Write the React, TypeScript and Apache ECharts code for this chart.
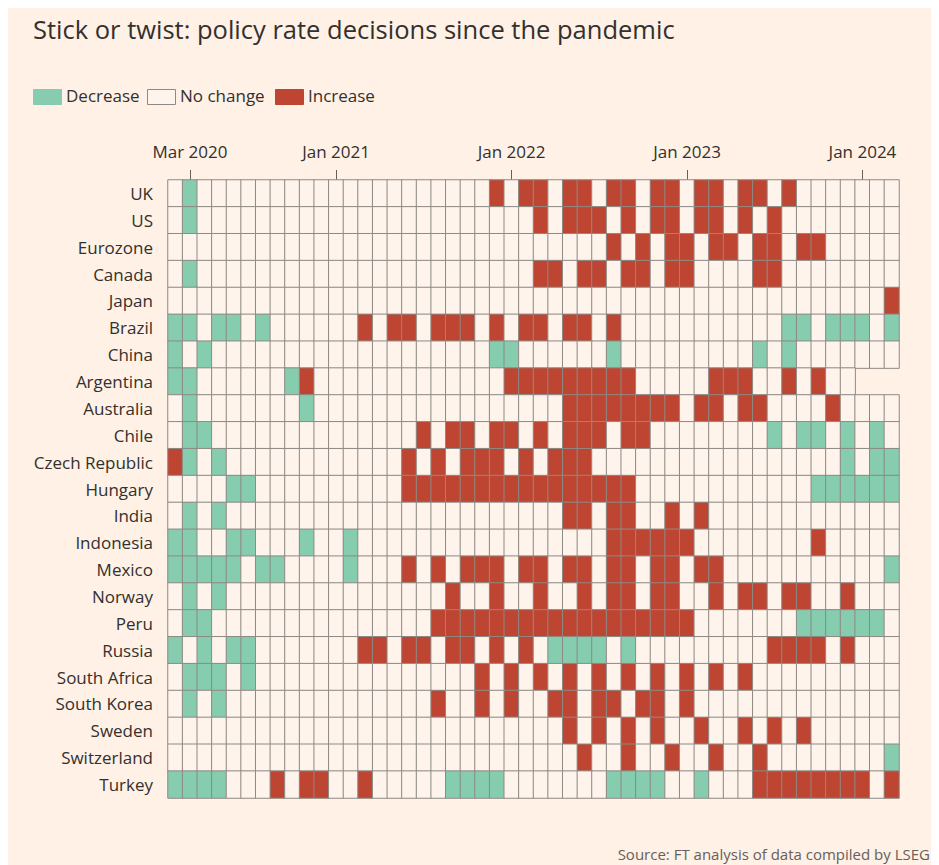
import React, { useEffect, useRef } from "react";
import * as echarts from "echarts";

const countries = [
  "UK", "US", "Eurozone", "Canada", "Japan", "Brazil", "China", "Argentina",
  "Australia", "Chile", "Czech Republic", "Hungary", "India", "Indonesia",
  "Mexico", "Norway", "Peru", "Russia", "South Africa", "South Korea",
  "Sweden", "Switzerland", "Turkey",
];

const months = [
  "Feb 2020", "Mar 2020", "Apr 2020", "May 2020", "Jun 2020", "Jul 2020", "Aug 2020", "Sep 2020", "Oct 2020", "Nov 2020", "Dec 2020",
  "Jan 2021", "Feb 2021", "Mar 2021", "Apr 2021", "May 2021", "Jun 2021", "Jul 2021", "Aug 2021", "Sep 2021", "Oct 2021", "Nov 2021", "Dec 2021",
  "Jan 2022", "Feb 2022", "Mar 2022", "Apr 2022", "May 2022", "Jun 2022", "Jul 2022", "Aug 2022", "Sep 2022", "Oct 2022", "Nov 2022", "Dec 2022",
  "Jan 2023", "Feb 2023", "Mar 2023", "Apr 2023", "May 2023", "Jun 2023", "Jul 2023", "Aug 2023", "Sep 2023", "Oct 2023", "Nov 2023", "Dec 2023",
  "Jan 2024", "Feb 2024", "Mar 2024",
];

const tickLabels = ["Mar 2020", "Jan 2021", "Jan 2022", "Jan 2023", "Jan 2024"];

const legendNames = ["Decrease", "No change", "Increase"];

// month indices (0 = Feb 2020) with a rate cut, per country
const decreases: number[][] = [
  [1],
  [1],
  [],
  [1],
  [],
  [0, 1, 3, 4, 6, 42, 43, 45, 46, 47, 49],
  [0, 2, 22, 23, 30, 40, 42],
  [0, 1, 8],
  [1, 9],
  [1, 2, 41, 43, 44, 46, 48],
  [1, 3, 46, 48, 49],
  [4, 5, 44, 45, 46, 47, 48, 49],
  [1, 3],
  [0, 1, 4, 5, 9, 12],
  [0, 1, 2, 3, 4, 6, 7, 12, 49],
  [1, 3],
  [1, 2, 43, 44, 45, 46, 47, 48],
  [0, 2, 4, 5, 26, 27, 28, 29, 31],
  [1, 2, 3, 5],
  [1, 3],
  [],
  [49],
  [0, 1, 2, 3, 19, 20, 21, 22, 30, 31, 32, 33, 36],
];

// month indices with a rate rise, per country
const increases: number[][] = [
  [22, 24, 25, 27, 28, 30, 31, 33, 34, 36, 37, 39, 40, 42],
  [25, 27, 28, 29, 31, 33, 34, 36, 37, 39, 41],
  [30, 32, 34, 35, 37, 38, 40, 41, 43, 44],
  [25, 26, 28, 29, 31, 32, 34, 35, 40, 41],
  [49],
  [13, 15, 16, 18, 19, 20, 22, 24, 25, 27, 28, 30],
  [],
  [9, 23, 24, 25, 26, 27, 28, 29, 30, 31, 37, 38, 39, 42, 44],
  [27, 28, 29, 30, 31, 32, 33, 34, 36, 37, 39, 40, 45],
  [17, 19, 20, 22, 23, 25, 27, 28, 29, 31, 32],
  [0, 16, 18, 20, 21, 22, 24, 26, 27, 28],
  [16, 17, 18, 19, 20, 21, 22, 23, 24, 25, 26, 27, 28, 29, 30, 31],
  [27, 28, 30, 31, 34, 36],
  [30, 31, 32, 33, 34, 35, 44],
  [16, 18, 20, 21, 22, 24, 25, 27, 28, 30, 31, 33, 34, 36, 37],
  [19, 22, 25, 28, 30, 31, 33, 34, 37, 39, 40, 42, 43, 46],
  [18, 19, 20, 21, 22, 23, 24, 25, 26, 27, 28, 29, 30, 31, 32, 33, 34, 35],
  [13, 14, 16, 17, 19, 20, 22, 24, 41, 42, 43, 44, 46],
  [21, 23, 25, 27, 29, 31, 33, 35, 37, 39],
  [18, 21, 23, 26, 27, 29, 30, 32, 33, 35],
  [27, 29, 31, 33, 36, 39, 41, 43],
  [28, 31, 34, 37, 40],
  [7, 9, 10, 13, 40, 41, 42, 43, 44, 45, 46, 47, 49],
];

// number of months with a recorded decision, per country
const monthsWithData = [
  50, 50, 50, 50, 50, 50, 50, 47, 50, 50, 50, 50, 50, 50, 50, 50, 50, 50, 50, 50, 50, 50, 50,
];

const GREEN = "#86cdb0";
const RED = "#be4532";
const CREAM = "#fff4ec";
const BORDER = "#8e8984";
const TEXT = "#33302e";
const FONT = "'Open Sans', sans-serif";

export default function App() {
  const ref = useRef<HTMLDivElement>(null);
  useEffect(() => {
    document.documentElement.style.overflow = "hidden";
    const chart = echarts.init(ref.current!, null, { renderer: "svg" });
    const data: number[][] = [];
    countries.forEach((_, r) => {
      for (let m = 0; m < monthsWithData[r]; m++) {
        const v = decreases[r].includes(m) ? -1 : increases[r].includes(m) ? 1 : 0;
        data.push([m, r, v]);
      }
    });
    const showTick = (_i: number, v: string) => tickLabels.includes(v);
    const swatchColors = [GREEN, CREAM, RED];
    const swatchX = [25, 139, 267];
    const legendGraphics: any[] = [];
    legendNames.forEach((name, i) => {
      legendGraphics.push({
        type: "rect",
        left: swatchX[i],
        top: 81,
        shape: { width: 28, height: 15 },
        style: { fill: swatchColors[i], stroke: i === 1 ? BORDER : swatchColors[i], lineWidth: 1 },
      });
      legendGraphics.push({
        type: "text",
        left: swatchX[i] + 33,
        top: 79,
        style: { text: name, fontSize: 17, fill: TEXT, fontFamily: FONT },
      });
    });
    chart.setOption({
      animation: false,
      backgroundColor: "#fff1e5",
      textStyle: { fontFamily: FONT },
      title: {
        text: "Stick or twist: policy rate decisions since the pandemic",
        left: 25,
        top: 8,
        padding: 0,
        textStyle: { fontSize: 25.5, fontWeight: "normal", color: TEXT, fontFamily: FONT },
      },
      visualMap: {
        type: "piecewise",
        show: false,
        dimension: 2,
        pieces: [
          { value: -1, color: GREEN },
          { value: 0, color: CREAM },
          { value: 1, color: RED },
        ],
      },
      grid: { left: 160, top: 172, width: 731, height: 618 },
      xAxis: {
        type: "category",
        position: "top",
        data: months,
        axisLine: { show: false },
        axisTick: { show: true, interval: showTick, alignWithLabel: true, length: 10, lineStyle: { color: "#66605c" } },
        axisLabel: { interval: showTick, fontSize: 17, color: TEXT, margin: 20, fontFamily: FONT },
        splitLine: { show: false },
      },
      yAxis: {
        type: "category",
        inverse: true,
        data: countries,
        axisLine: { show: false },
        axisTick: { show: false },
        axisLabel: { fontSize: 17, color: TEXT, margin: 15, fontFamily: FONT },
        splitLine: { show: false },
      },
      series: [
        {
          type: "heatmap",
          data,
          itemStyle: { borderColor: BORDER, borderWidth: 1 },
          emphasis: { disabled: true },
        },
      ],
      graphic: [
        ...legendGraphics,
        {
          type: "text",
          right: 9,
          top: 838,
          style: {
            text: "Source: FT analysis of data compiled by LSEG",
            fontSize: 15,
            fill: "#66605c",
            fontFamily: FONT,
          },
        },
      ],
    });
    return () => chart.dispose();
  }, []);
  return <div ref={ref} style={{ width: 931, height: 857 }} />;
}
